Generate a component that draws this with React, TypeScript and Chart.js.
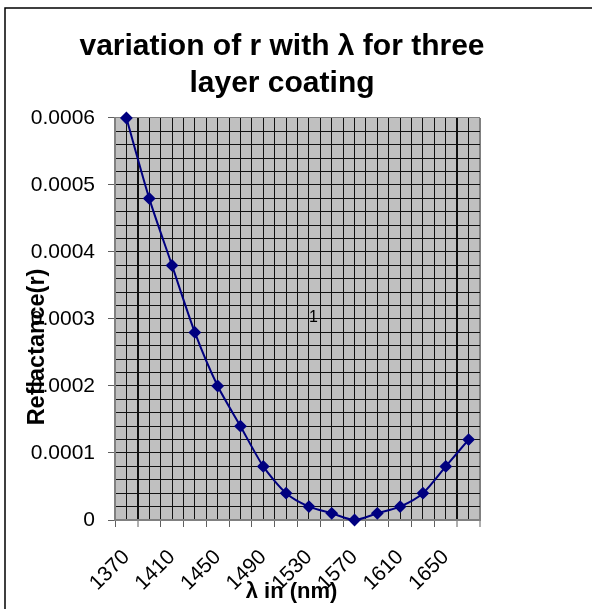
import React, { useEffect, useRef } from 'react';
import { Chart, registerables } from 'chart.js';

Chart.register(...registerables);

const wavelengths = [1370, 1390, 1410, 1430, 1450, 1470, 1490, 1510, 1530, 1550, 1570, 1590, 1610, 1630, 1650, 1670];
const reflectance = [0.0006, 0.00048, 0.00038, 0.00028, 0.0002, 0.00014, 0.00008, 0.00004, 0.00002, 0.00001, 0, 0.00001, 0.00002, 0.00004, 0.00008, 0.00012];
const xLabelValues = [1370, 1410, 1450, 1490, 1530, 1570, 1610, 1650];
const yLabelValues = [0, 0.0001, 0.0002, 0.0003, 0.0004, 0.0005, 0.0006];
const chartTitle = ['variation of r with λ for three', 'layer coating'];
const xTitle = 'λ in (nm)';
const yTitle = 'Reflactance(r)';
const seriesName = '1';

const FONT = "'Liberation Sans', Arial, sans-serif";

const isYLabel = (v: number) => yLabelValues.some((l) => Math.abs(l - v) < 1e-9);
const fmtY = (v: number) => (Math.abs(v) < 1e-12 ? '0' : v.toFixed(4));

const decorPlugin = {
  id: 'decor',
  beforeDraw(chart: any) {
    const { ctx, chartArea: a } = chart;
    ctx.save();
    ctx.fillStyle = '#c0c0c0';
    ctx.fillRect(a.left, a.top, a.right - a.left, a.bottom - a.top);
    ctx.restore();
  },
  afterDraw(chart: any) {
    const { ctx, chartArea: a, width, height } = chart;
    ctx.save();
    // outer frame
    ctx.strokeStyle = '#000';
    ctx.lineWidth = 1.5;
    ctx.beginPath();
    ctx.moveTo(5, height);
    ctx.lineTo(5, 8);
    ctx.lineTo(width, 8);
    ctx.stroke();

    ctx.fillStyle = '#000';
    // y axis title
    ctx.save();
    ctx.translate(44, (a.top + a.bottom) / 2 + 28);
    ctx.rotate(-Math.PI / 2);
    ctx.font = `bold 23.5px ${FONT}`;
    ctx.textAlign = 'center';
    ctx.textBaseline = 'alphabetic';
    ctx.fillText(yTitle, 0, 0);
    ctx.restore();

    // x axis title
    ctx.font = `bold 22px ${FONT}`;
    ctx.textAlign = 'center';
    ctx.textBaseline = 'alphabetic';
    ctx.fillText(xTitle, (a.left + a.right) / 2 - 6, 598);

    // series label
    const xs = chart.scales.x;
    const ys = chart.scales.y;
    ctx.font = `16px ${FONT}`;
    ctx.fillText(seriesName, xs.getPixelForValue(1534), ys.getPixelForValue(0.0003) + 3);
    ctx.restore();
  },
};

export default function App() {
  const ref = useRef<HTMLCanvasElement | null>(null);

  useEffect(() => {
    if (!ref.current) return;
    Chart.defaults.font.family = FONT;
    const chart = new Chart(ref.current, {
      type: 'line',
      data: {
        datasets: [
          {
            label: seriesName,
            data: wavelengths.map((w, i) => ({ x: w, y: reflectance[i] })),
            borderColor: '#000080',
            backgroundColor: '#000080',
            borderWidth: 2,
            pointStyle: 'rectRot',
            pointRadius: 5,
            pointHoverRadius: 5,
            tension: 0.25,
            clip: false as any,
          },
        ],
      },
      options: {
        responsive: false,
        animation: false,
        events: [],
        layout: { padding: { left: 0, right: 28, top: 0, bottom: 0 } },
        plugins: {
          legend: { display: false },
          tooltip: { enabled: false },
          title: {
            display: true,
            text: chartTitle,
            color: '#000',
            font: { size: 30, weight: 'bold', family: FONT, lineHeight: 1.233 },
            padding: { top: 28.5, bottom: 15.5 },
          },
        },
        scales: {
          x: {
            type: 'linear',
            min: 1360,
            max: 1680,
            afterFit: (s: any) => {
              s.height = 89;
              s.paddingLeft = 0;
              s.paddingRight = 0;
            },
            ticks: {
              stepSize: 10,
              autoSkip: false,
              minRotation: 45,
              maxRotation: 45,
              padding: 18,
              color: '#000',
              font: { size: 21, family: FONT },
              callback: (v: any) => (xLabelValues.includes(Number(v)) ? String(v) : ''),
            },
            grid: {
              color: (c: any) => (c.tick && c.tick.value === 1680 ? '#808080' : '#111'),
              lineWidth: (c: any) =>
                c.tick && (c.tick.value === 1380 || c.tick.value === 1660 || c.tick.value === 1680) ? 2 : 1,
              tickColor: (c: any) => (c.tick && (c.tick.value - 1360) % 20 === 0 ? '#606060' : 'rgba(0,0,0,0)'),
              tickWidth: 1,
              tickLength: 7,
            },
            border: { color: '#808080', width: 2 },
          },
          y: {
            type: 'linear',
            min: 0,
            max: 0.0006,
            afterFit: (s: any) => {
              s.width = 115;
              s.paddingTop = 0;
              s.paddingBottom = 0;
            },
            ticks: {
              stepSize: 0.00002,
              autoSkip: false,
              padding: 13,
              color: '#000',
              font: { size: 21, family: FONT },
              callback: (v: any) => (isYLabel(Number(v)) ? fmtY(Number(v)) : ''),
            },
            grid: {
              color: (c: any) => (c.tick && Math.abs(c.tick.value - 0.0006) < 1e-9 ? '#808080' : '#111'),
              lineWidth: 1,
              tickColor: (c: any) => (c.tick && isYLabel(c.tick.value) ? '#606060' : 'rgba(0,0,0,0)'),
              tickWidth: 1,
              tickLength: 7,
            },
            border: { color: '#808080', width: 2 },
          },
          yRightSpace: {
            type: 'linear',
            position: 'right',
            display: true,
            ticks: { display: false },
            grid: { display: false },
            border: { display: false },
            afterFit: (s: any) => {
              s.width = 84;
              s.paddingTop = 0;
              s.paddingBottom = 0;
            },
          },
        },
      },
      plugins: [decorPlugin],
    });
    return () => chart.destroy();
  }, []);

  return (
    <div style={{ position: 'absolute', left: 0, top: 0, width: 592, height: 609, background: '#fff' }}>
      <canvas ref={ref} width={592} height={609} style={{ display: 'block', width: 592, height: 609 }} />
    </div>
  );
}
